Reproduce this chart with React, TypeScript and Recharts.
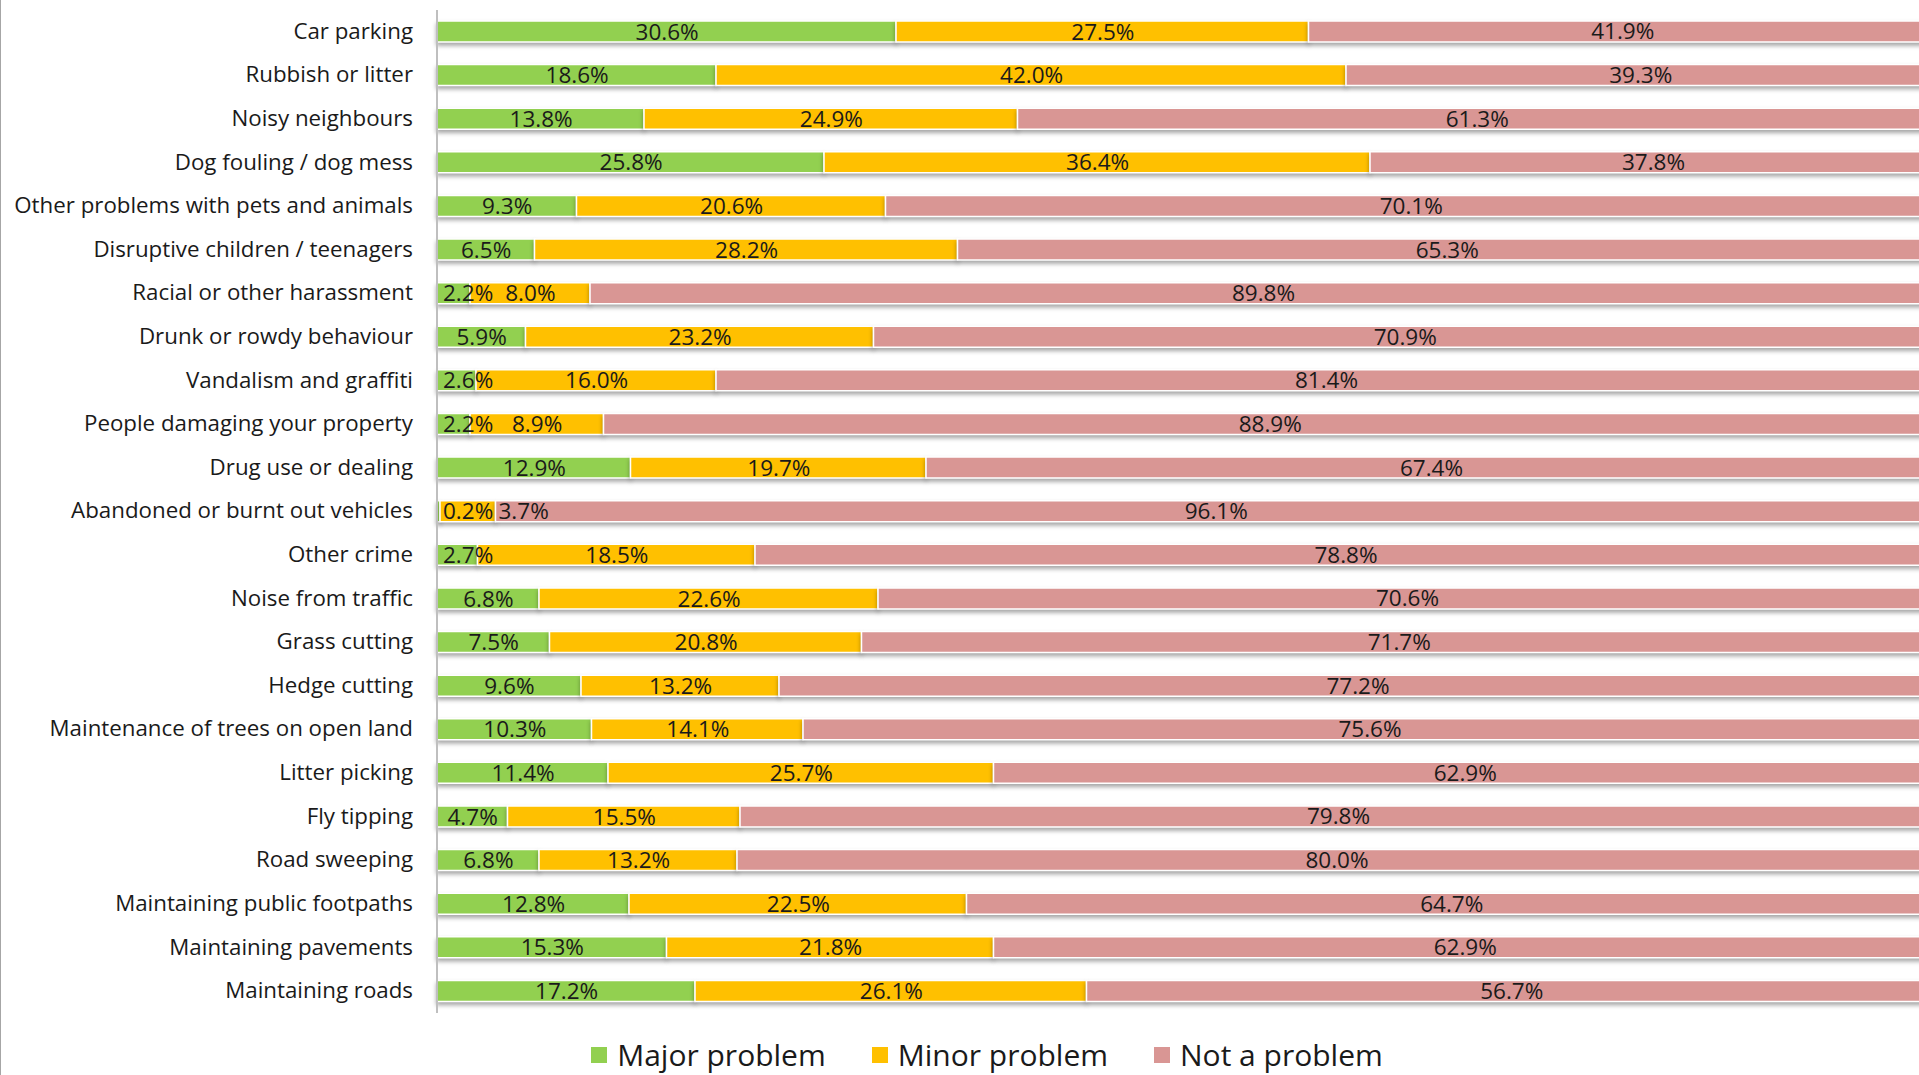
import React from "react"
import { Bar, BarChart, XAxis, YAxis, Legend, LabelList, Rectangle } from "recharts"

const categories = [
  "Car parking",
  "Rubbish or litter",
  "Noisy neighbours",
  "Dog fouling / dog mess",
  "Other problems with pets and animals",
  "Disruptive children / teenagers",
  "Racial or other harassment",
  "Drunk or rowdy behaviour",
  "Vandalism and graffiti",
  "People damaging your property",
  "Drug use or dealing",
  "Abandoned or burnt out vehicles",
  "Other crime",
  "Noise from traffic",
  "Grass cutting",
  "Hedge cutting",
  "Maintenance of trees on open land",
  "Litter picking",
  "Fly tipping",
  "Road sweeping",
  "Maintaining public footpaths",
  "Maintaining pavements",
  "Maintaining roads",
]

const major = [30.6, 18.6, 13.8, 25.8, 9.3, 6.5, 2.2, 5.9, 2.6, 2.2, 12.9, 0.2, 2.7, 6.8, 7.5, 9.6, 10.3, 11.4, 4.7, 6.8, 12.8, 15.3, 17.2]
const minor = [27.5, 42.0, 24.9, 36.4, 20.6, 28.2, 8.0, 23.2, 16.0, 8.9, 19.7, 3.7, 18.5, 22.6, 20.8, 13.2, 14.1, 25.7, 15.5, 13.2, 22.5, 21.8, 26.1]
const notProblem = [41.9, 39.3, 61.3, 37.8, 70.1, 65.3, 89.8, 70.9, 81.4, 88.9, 67.4, 96.1, 78.8, 70.6, 71.7, 77.2, 75.6, 62.9, 79.8, 80.0, 64.7, 62.9, 56.7]

const data = categories.map((name, i) => ({
  name,
  major: major[i],
  minor: minor[i],
  notProblem: notProblem[i],
}))

const FONT = "'Open Sans', 'Noto Sans', sans-serif"
const LABEL_SIZE = 22.5
const PAD = 6
const pct = (v: any) => `${Number(v).toFixed(1)}%`
const textW = (s: string) => s.length * LABEL_SIZE * 0.55

const ShadowBar = (props: any) => (
  <Rectangle {...props} style={{ filter: "drop-shadow(0px 3px 2px rgba(0,0,0,0.35))" }} />
)

// left edge of a label, nudged right (like Excel) when the segment is too narrow
const majorLeft = (x: number, width: number, text: string) => {
  const w = textW(text)
  if (width < w + 2 * PAD) return x + PAD
  return x + width / 2 - w / 2
}

const MajorLabel = (props: any) => {
  const { x, y, width, height, value } = props
  const text = pct(value)
  return (
    <text x={majorLeft(x, width, text)} y={y + height / 2} dy="0.36em" textAnchor="start"
      style={{ fontSize: LABEL_SIZE, fill: "#1a1a1a", fontFamily: FONT }}>
      {text}
    </text>
  )
}

const MinorLabel = (props: any) => {
  const { x, y, width, height, value, index } = props
  const text = pct(value)
  const w = textW(text)
  // geometry of the preceding (major) segment, from this segment's scale
  const mWidth = (width * major[index]) / minor[index]
  const mX = x - mWidth
  const mText = pct(major[index])
  const prevRight = majorLeft(mX, mWidth, mText) + textW(mText)
  const left = Math.max(x + width / 2 - w / 2, prevRight + PAD)
  return (
    <text x={left} y={y + height / 2} dy="0.36em" textAnchor="start"
      style={{ fontSize: LABEL_SIZE, fill: "#1a1a1a", fontFamily: FONT }}>
      {text}
    </text>
  )
}

const LegendContent = (props: any) => {
  const { payload = [] } = props
  return (
    <div style={{ display: "flex", justifyContent: "center", gap: 46, paddingLeft: 36, fontFamily: FONT, fontSize: 30, lineHeight: "36px", color: "#1a1a1a" }}>
      {payload.map((p: any) => (
        <div key={p.value} style={{ display: "flex", alignItems: "center" }}>
          <span style={{ width: 16, height: 16, background: p.color, marginRight: 10, display: "inline-block" }} />
          <span>{p.value}</span>
        </div>
      ))}
    </div>
  )
}

export default function App() {
  return (
    <div
      style={{
        position: "fixed",
        left: 0,
        top: 0,
        width: 1919,
        height: 1075,
        overflow: "hidden",
        background: "#fff",
        borderLeft: "1.5px solid #a6a6a6",
        boxSizing: "border-box",
      }}
    >
      <BarChart
        width={1936}
        height={1075}
        data={data}
        layout="vertical"
        margin={{ top: 10, right: 0, left: 0, bottom: 2 }}
        barSize={21}
      >
        <XAxis type="number" domain={[0, 100]} hide />
        <YAxis
          type="category"
          dataKey="name"
          width={436}
          tickLine={false}
          tickSize={0}
          tickMargin={24}
          axisLine={{ stroke: "#bfbfbf", strokeWidth: 2 }}
          tick={{ fontSize: 22.3, fill: "#1a1a1a", fontFamily: FONT, dy: -1 }}
          interval={0}
        />
        <Legend verticalAlign="bottom" content={<LegendContent />} wrapperStyle={{ paddingTop: 24 }} />
        <Bar dataKey="major" name="Major problem" stackId="a" fill="#92D050" stroke="#fff" strokeWidth={1.5} shape={<ShadowBar />} isAnimationActive={false}>
          <LabelList dataKey="major" content={<MajorLabel />} />
        </Bar>
        <Bar dataKey="minor" name="Minor problem" stackId="a" fill="#FFC000" stroke="#fff" strokeWidth={1.5} shape={<ShadowBar />} isAnimationActive={false}>
          <LabelList dataKey="minor" content={<MinorLabel />} />
        </Bar>
        <Bar dataKey="notProblem" name="Not a problem" stackId="a" fill="#D99694" stroke="#fff" strokeWidth={1.5} shape={<ShadowBar />} isAnimationActive={false}>
          <LabelList dataKey="notProblem" position="center" formatter={pct} style={{ fontSize: LABEL_SIZE, fill: "#1a1a1a", fontFamily: FONT }} />
        </Bar>
      </BarChart>
    </div>
  )
}
